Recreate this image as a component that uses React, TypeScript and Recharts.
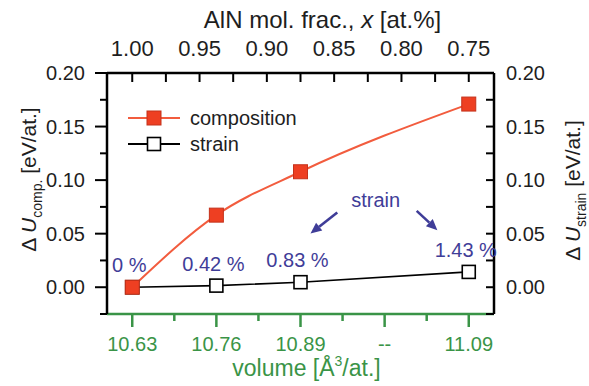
import React from "react";
import {
  LineChart,
  Line,
  XAxis,
  YAxis,
  Legend,
  LabelList,
  ReferenceLine,
  ReferenceDot,
} from "recharts";

// ---------- data ----------
const volumeLabels = ["10.63", "10.76", "10.89", "--", "11.09"];
const alnFractions = [1.0, 0.9375, 0.875, 0.8125, 0.75];
const compositionValues = [0, 0.0673, 0.1078, null, 0.171];
const strainValues = [0, 0.0015, 0.0047, null, 0.0143];
const strainPercentLabels = ["0 %", "0.42 %", "0.83 %", null, "1.43 %"];

const volumeTicks = [0, 0.5, 1, 1.5, 2, 2.5, 3, 3.5, 4];
const fracTicks = [0.75, 0.775, 0.8, 0.825, 0.85, 0.875, 0.9, 0.925, 0.95, 0.975, 1.0];
const energyTicks = [-0.025, 0, 0.025, 0.05, 0.075, 0.1, 0.125, 0.15, 0.175, 0.2];

const strainNote = { x: 2.893, y: 0.0752, text: "strain" };
const strainArrows = [
  [{ x: 2.437, y: 0.0698 }, { x: 2.119, y: 0.0502 }],
  [{ x: 3.381, y: 0.0713 }, { x: 3.627, y: 0.0533 }],
];

const chartData = volumeLabels.map((label, i) => ({
  pos: i,
  label,
  frac: alnFractions[i],
  composition: compositionValues[i],
  strain: strainValues[i],
  pct: strainPercentLabels[i],
}));

// ---------- styles ----------
const FONT = "'Liberation Sans', Arial, Helvetica, sans-serif";
const TEXT = "#1e1e1e";
const GREEN = "#3a9447";
const BLUE = "#3f3d98";
const RED_LINE = "#f25c3e";
const RED_FILL = "#ee3f22";
const RED_EDGE = "#c4321b";

const isMajor = (v: number, step: number) =>
  Math.abs(v / step - Math.round(v / step)) < 1e-6;

// ---------- ticks ----------
const LeftTick = (props: any) => {
  const { x, y, payload } = props;
  const v = payload.value as number;
  const major = isMajor(v, 0.05);
  const len = major ? 12 : 7;
  return (
    <g>
      <line x1={x} x2={x - len} y1={y} y2={y} stroke="#000" strokeWidth={2} />
      {major && (
        <text x={x - 22} y={y} dy="0.36em" textAnchor="end" fontSize={20} fontFamily={FONT} fill={TEXT}>
          {v.toFixed(2)}
        </text>
      )}
    </g>
  );
};

const RightTick = (props: any) => {
  const { x, y, payload } = props;
  const v = payload.value as number;
  const major = isMajor(v, 0.05);
  return (
    <g>
      <line x1={x} x2={x - 8} y1={y} y2={y} stroke="#000" strokeWidth={2} />
      {major && (
        <text x={x + 12} y={y} dy="0.36em" textAnchor="start" fontSize={20} fontFamily={FONT} fill={TEXT}>
          {v.toFixed(2)}
        </text>
      )}
    </g>
  );
};

const TopTick = (props: any) => {
  const { x, y, payload } = props;
  const v = payload.value as number;
  const major = isMajor(v, 0.05);
  return (
    <g>
      <line x1={x} x2={x} y1={y} y2={y + 9} stroke="#000" strokeWidth={2} />
      {major && (
        <text x={x} y={y - 17} textAnchor="middle" fontSize={22} fontFamily={FONT} fill={TEXT}>
          {v.toFixed(2)}
        </text>
      )}
    </g>
  );
};

const BottomTick = (props: any) => {
  const { x, y, payload } = props;
  const v = payload.value as number;
  const major = isMajor(v, 1);
  return (
    <g>
      <line x1={x} x2={x} y1={y} y2={y + (major ? 13 : 7)} stroke={GREEN} strokeWidth={2.5} />
      {major && (
        <text x={x} y={y + 37} textAnchor="middle" fontSize={20} fontFamily={FONT} fill={GREEN}>
          {volumeLabels[Math.round(v)]}
        </text>
      )}
    </g>
  );
};

// ---------- axis titles ----------
const LeftTitle = (props: any) => {
  const vb = props.viewBox;
  const bx = vb.x + 36;
  const cy = vb.y + vb.height / 2 - 14;
  return (
    <text x={bx} y={cy} transform={`rotate(-90 ${bx} ${cy})`} textAnchor="middle" fontSize={21} fontFamily={FONT} fill={TEXT}>
      <tspan>Δ </tspan>
      <tspan fontStyle="italic">U</tspan>
      <tspan fontSize={14} dy={6}>comp.</tspan>
      <tspan dy={-6}> [eV/at.]</tspan>
    </text>
  );
};

const RightTitle = (props: any) => {
  const vb = props.viewBox;
  const bx = vb.x + 86;
  const cy = vb.y + vb.height / 2 - 3;
  return (
    <text x={bx} y={cy} transform={`rotate(-90 ${bx} ${cy})`} textAnchor="middle" fontSize={21} fontFamily={FONT} fill={TEXT}>
      <tspan>Δ </tspan>
      <tspan fontStyle="italic">U</tspan>
      <tspan fontSize={14} dy={6}>strain</tspan>
      <tspan dy={-6}> [eV/at.]</tspan>
    </text>
  );
};

const TopTitle = (props: any) => {
  const vb = props.viewBox;
  const cx = vb.x + vb.width / 2 + 22;
  return (
    <text x={cx} y={28} textAnchor="middle" fontSize={24} fontFamily={FONT} fill={TEXT}>
      <tspan>AlN mol. frac., </tspan>
      <tspan fontStyle="italic">x</tspan>
      <tspan> [at.%]</tspan>
    </text>
  );
};

const BottomTitle = (props: any) => {
  const vb = props.viewBox;
  const cx = vb.x + vb.width / 2 + 6;
  const by = vb.y + 62;
  return (
    <text x={cx} y={by} textAnchor="middle" fontSize={23} fontFamily={FONT} fill={GREEN}>
      <tspan>volume [Å</tspan>
      <tspan fontSize={14} dy={-10}>3</tspan>
      <tspan dy={10}>/at.]</tspan>
    </text>
  );
};

// ---------- marks ----------
const CompDot = (p: any) => {
  if (p.cx == null || p.cy == null || p.value == null) return <g key={`c${p.index}`} />;
  return (
    <rect key={`c${p.index}`} x={p.cx - 7} y={p.cy - 7} width={14} height={14} fill={RED_FILL} stroke={RED_EDGE} strokeWidth={1} />
  );
};

const StrainDot = (p: any) => {
  if (p.cx == null || p.cy == null || p.value == null) return <g key={`s${p.index}`} />;
  return (
    <rect key={`s${p.index}`} x={p.cx - 6.5} y={p.cy - 6.5} width={13} height={13} fill="#fff" stroke="#000" strokeWidth={1.6} />
  );
};

const PctLabel = (p: any) => {
  if (p.value == null || p.x == null || p.y == null) return null;
  return (
    <text x={p.x - 3} y={p.y - 15} textAnchor="middle" fontSize={20} fontFamily={FONT} fill={BLUE}>
      {p.value}
    </text>
  );
};

const ArrowShape = (p: any) => {
  const { x1, y1, x2, y2 } = p;
  if ([x1, y1, x2, y2].some((v) => v == null || isNaN(v))) return <g />;
  const dx = x2 - x1;
  const dy = y2 - y1;
  const L = Math.sqrt(dx * dx + dy * dy);
  const ux = dx / L;
  const uy = dy / L;
  const head = 11;
  const half = 5;
  const bx = x2 - ux * head;
  const by = y2 - uy * head;
  const pts = `${x2},${y2} ${bx - uy * half},${by + ux * half} ${bx + uy * half},${by - ux * half}`;
  return (
    <g>
      <line x1={x1} y1={y1} x2={bx} y2={by} stroke={BLUE} strokeWidth={2.6} />
      <polygon points={pts} fill={BLUE} />
    </g>
  );
};

const NoteShape = (p: any) => {
  if (p.cx == null || p.cy == null) return <g />;
  return (
    <text x={p.cx} y={p.cy} textAnchor="middle" fontSize={20} fontFamily={FONT} fill={BLUE}>
      {strainNote.text}
    </text>
  );
};

const legendRows = [
  { key: "composition", line: RED_LINE, fill: RED_FILL, edge: RED_EDGE, size: 14 },
  { key: "strain", line: "#000", fill: "#fff", edge: "#000", size: 13 },
];

const LegendContent = () => (
  <svg width={200} height={56} style={{ display: "block" }}>
    {legendRows.map((r, i) => {
      const cy = 13 + i * 26;
      return (
        <g key={r.key}>
          <line x1={8} x2={60} y1={cy} y2={cy} stroke={r.line} strokeWidth={2} />
          <rect x={34 - r.size / 2} y={cy - r.size / 2} width={r.size} height={r.size} fill={r.fill} stroke={r.edge} strokeWidth={i === 0 ? 1 : 1.6} />
          <text x={70} y={cy + 7} fontSize={20} fontFamily={FONT} fill={TEXT}>
            {r.key}
          </text>
        </g>
      );
    })}
  </svg>
);

export default function App() {
  return (
    <div style={{ position: "absolute", left: 0, top: 0, width: 589, height: 386, background: "#fff" }}>
      <LineChart width={589} height={386} data={chartData} margin={{ top: 0, right: 0, bottom: 0, left: 0 }}>
        <XAxis
          xAxisId="vol"
          dataKey="pos"
          type="number"
          orientation="bottom"
          domain={[-0.3, 4.3]}
          allowDataOverflow
          ticks={volumeTicks}
          interval={0}
          height={72}
          tickSize={0}
          tickMargin={0}
          tick={(p: any) => <BottomTick {...p} />}
          axisLine={{ stroke: GREEN, strokeWidth: 2.5 }}
          tickLine={false}
          label={{ content: (p: any) => <BottomTitle {...p} /> }}
        />
        <XAxis
          xAxisId="top"
          dataKey="frac"
          type="number"
          orientation="top"
          domain={[0.73125, 1.01875]}
          reversed
          allowDataOverflow
          ticks={fracTicks}
          interval={0}
          height={73}
          tickSize={0}
          tickMargin={0}
          tick={(p: any) => <TopTick {...p} />}
          axisLine={{ stroke: "#000", strokeWidth: 2.5 }}
          tickLine={false}
          label={{ content: (p: any) => <TopTitle {...p} /> }}
        />
        <YAxis
          yAxisId="comp"
          type="number"
          orientation="left"
          domain={[-0.025, 0.2]}
          allowDataOverflow
          ticks={energyTicks}
          interval={0}
          width={107}
          tickSize={0}
          tickMargin={0}
          tick={(p: any) => <LeftTick {...p} />}
          axisLine={{ stroke: "#000", strokeWidth: 2.5 }}
          tickLine={false}
          label={{ content: (p: any) => <LeftTitle {...p} /> }}
        />
        <YAxis
          yAxisId="strain"
          type="number"
          orientation="right"
          domain={[-0.025, 0.2]}
          allowDataOverflow
          ticks={energyTicks}
          interval={0}
          width={95}
          tickSize={0}
          tickMargin={0}
          tick={(p: any) => <RightTick {...p} />}
          axisLine={{ stroke: "#000", strokeWidth: 2.5 }}
          tickLine={false}
          label={{ content: (p: any) => <RightTitle {...p} /> }}
        />
        <Legend
          layout="vertical"
          align="center"
          verticalAlign="middle"
          wrapperStyle={{ position: "absolute", left: 120, top: 105, width: 200, height: 56 }}
          content={() => <LegendContent />}
        />
        {/* invisible series that ties the AlN-fraction axis to the data */}
        <Line
          xAxisId="top"
          yAxisId="comp"
          type="linear"
          dataKey="composition"
          stroke="none"
          dot={false}
          activeDot={false}
          legendType="none"
          connectNulls
          isAnimationActive={false}
        />
        <Line
          xAxisId="vol"
          yAxisId="strain"
          type="linear"
          dataKey="strain"
          name="strain"
          stroke="#000"
          strokeWidth={1.6}
          connectNulls
          dot={(p: any) => <StrainDot {...p} />}
          isAnimationActive={false}
        >
          <LabelList dataKey="pct" content={(p: any) => <PctLabel {...p} />} />
        </Line>
        <Line
          xAxisId="vol"
          yAxisId="comp"
          type="monotone"
          dataKey="composition"
          name="composition"
          stroke={RED_LINE}
          strokeWidth={2}
          connectNulls
          dot={(p: any) => <CompDot {...p} />}
          isAnimationActive={false}
        />
        {strainArrows.map((seg, i) => (
          <ReferenceLine
            key={`arrow${i}`}
            xAxisId="vol"
            yAxisId="comp"
            segment={seg}
            shape={(p: any) => <ArrowShape {...p} />}
          />
        ))}
        <ReferenceDot
          xAxisId="vol"
          yAxisId="comp"
          x={strainNote.x}
          y={strainNote.y}
          r={0}
          shape={(p: any) => <NoteShape {...p} />}
        />
      </LineChart>
    </div>
  );
}
